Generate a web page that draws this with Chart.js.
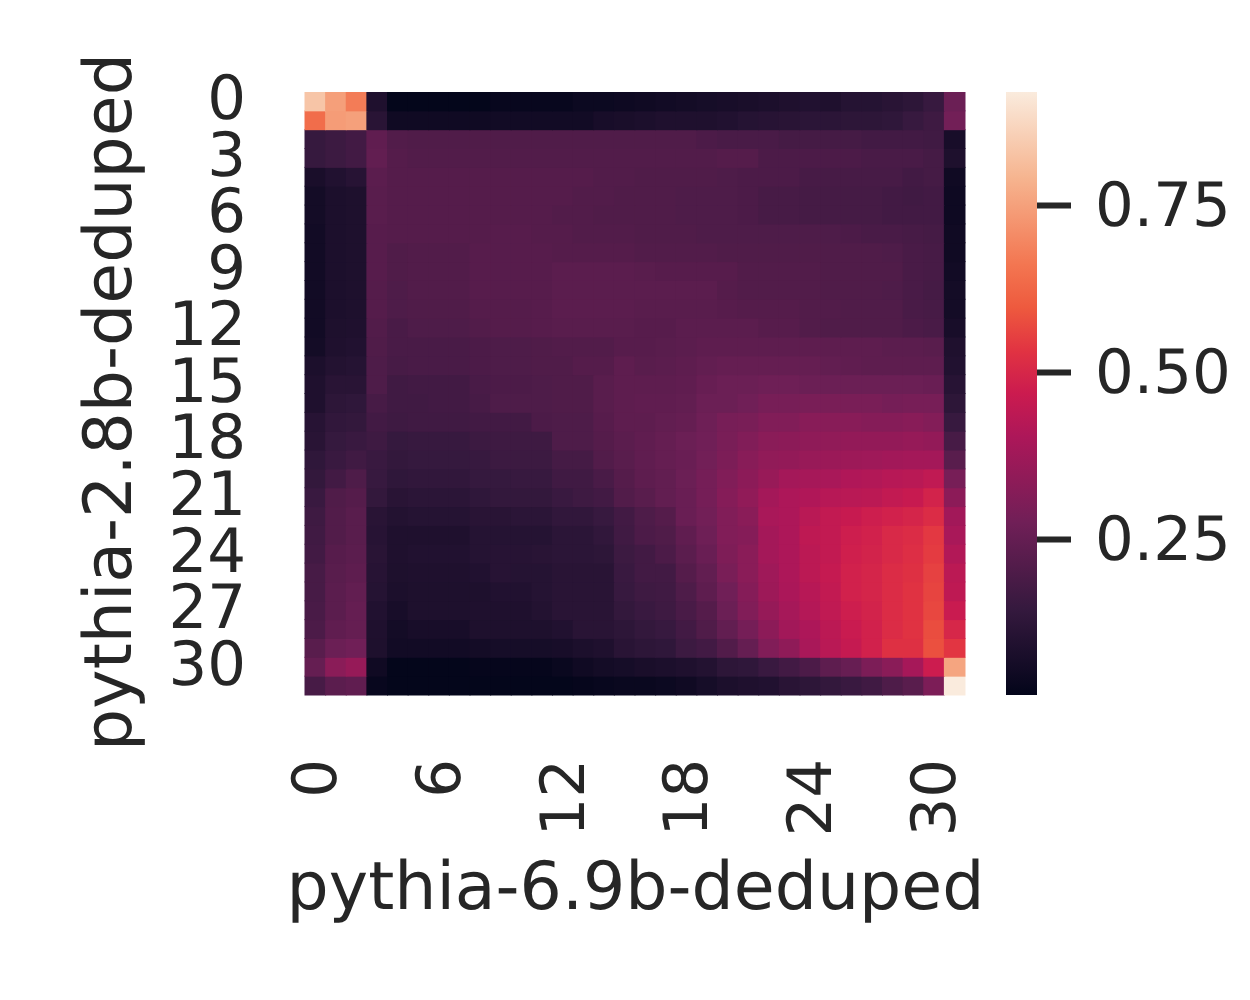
<!DOCTYPE html>
<html>
<head>
<meta charset="utf-8">
<style>
  body { margin: 0; background: #fff; }
  canvas { position: absolute; top: 0; }
  #heat { left: 0; }
  #bar { left: 1000px; }
</style>
<script src="https://cdn.jsdelivr.net/npm/chart.js@4"></script>
</head>
<body>
<canvas id="heat" width="1000" height="1000"></canvas>
<canvas id="bar" width="250" height="1000"></canvas>
<script>
// Heatmap data, one list per row
const cellValues = [
  [.83,.746,.675,.09,.02,.02,.02,.02,.02,.03,.03,.03,.03,.04,.04,.045,.05,.055,.06,.065,.07,.075,.08,.09,.095,.09,.105,.105,.115,.125,.15,.265],
  [.64,.74,.75,.115,.05,.05,.05,.05,.05,.055,.055,.055,.055,.055,.07,.075,.08,.09,.09,.09,.095,.105,.11,.115,.12,.12,.125,.125,.13,.15,.165,.28],
  [.148,.16,.175,.24,.21,.205,.205,.205,.205,.205,.205,.205,.205,.205,.205,.205,.205,.205,.205,.195,.19,.19,.19,.18,.18,.18,.18,.175,.175,.175,.17,.07],
  [.148,.16,.175,.245,.215,.21,.21,.21,.21,.21,.21,.21,.21,.21,.21,.21,.21,.21,.21,.21,.215,.215,.195,.195,.195,.195,.195,.19,.19,.19,.18,.085],
  [.075,.095,.11,.23,.215,.215,.215,.215,.215,.215,.215,.215,.215,.215,.21,.21,.205,.205,.205,.205,.2,.195,.195,.195,.185,.185,.185,.185,.185,.175,.18,.05],
  [.06,.08,.085,.225,.215,.215,.215,.215,.215,.215,.215,.215,.215,.21,.21,.205,.205,.205,.2,.2,.2,.195,.185,.185,.18,.18,.18,.18,.175,.17,.175,.045],
  [.06,.08,.085,.225,.215,.215,.215,.215,.215,.215,.215,.215,.21,.21,.205,.205,.205,.205,.2,.2,.2,.195,.185,.185,.18,.18,.18,.18,.175,.175,.175,.045],
  [.055,.08,.085,.22,.215,.215,.215,.215,.215,.22,.22,.215,.215,.21,.21,.21,.205,.205,.205,.2,.2,.2,.2,.2,.2,.2,.195,.19,.19,.185,.18,.05],
  [.055,.08,.085,.22,.205,.21,.21,.21,.22,.22,.22,.22,.215,.215,.215,.215,.21,.21,.21,.21,.205,.205,.205,.205,.205,.205,.205,.205,.2,.19,.185,.05],
  [.055,.08,.085,.22,.205,.21,.21,.21,.22,.22,.22,.22,.23,.23,.23,.23,.225,.22,.22,.22,.22,.21,.21,.21,.21,.205,.205,.205,.205,.19,.185,.055],
  [.055,.08,.085,.215,.2,.21,.21,.21,.22,.22,.22,.22,.23,.23,.23,.23,.23,.23,.23,.23,.215,.21,.21,.21,.21,.205,.205,.205,.2,.19,.18,.06],
  [.055,.08,.085,.215,.2,.205,.205,.205,.215,.215,.215,.22,.23,.23,.23,.23,.225,.225,.225,.225,.22,.215,.215,.215,.21,.21,.205,.205,.205,.19,.185,.06],
  [.055,.085,.09,.21,.19,.2,.2,.2,.21,.215,.215,.22,.225,.225,.225,.225,.22,.22,.23,.23,.23,.23,.22,.22,.21,.205,.205,.205,.205,.195,.19,.07],
  [.06,.09,.095,.205,.19,.19,.19,.19,.195,.2,.2,.205,.21,.21,.21,.22,.22,.225,.23,.235,.235,.235,.235,.235,.235,.235,.235,.235,.23,.23,.225,.09],
  [.08,.1,.105,.2,.185,.19,.19,.19,.195,.2,.2,.205,.205,.215,.215,.235,.225,.23,.235,.245,.25,.25,.25,.25,.25,.245,.24,.235,.235,.235,.235,.095],
  [.09,.115,.115,.2,.17,.175,.175,.175,.19,.195,.195,.2,.205,.205,.225,.235,.235,.235,.24,.255,.265,.265,.27,.27,.265,.265,.265,.265,.265,.265,.26,.11],
  [.09,.125,.13,.185,.17,.17,.175,.175,.185,.2,.2,.2,.205,.205,.225,.235,.24,.24,.245,.265,.265,.275,.29,.29,.295,.295,.295,.295,.285,.29,.29,.125],
  [.11,.135,.14,.175,.165,.17,.17,.17,.175,.175,.175,.195,.2,.2,.22,.235,.235,.245,.25,.27,.29,.295,.31,.31,.325,.325,.325,.32,.32,.325,.315,.15],
  [.115,.145,.155,.165,.145,.15,.15,.15,.16,.165,.165,.165,.2,.2,.215,.23,.24,.25,.265,.275,.295,.31,.33,.335,.34,.345,.35,.35,.35,.355,.35,.185],
  [.13,.155,.17,.155,.14,.145,.145,.145,.15,.16,.16,.16,.18,.18,.21,.225,.24,.25,.26,.28,.3,.325,.345,.35,.36,.365,.37,.375,.38,.385,.385,.225],
  [.14,.175,.2,.15,.13,.135,.135,.135,.145,.145,.15,.15,.17,.17,.19,.215,.235,.245,.265,.285,.31,.335,.36,.385,.39,.395,.41,.415,.425,.43,.445,.29],
  [.155,.205,.215,.14,.115,.12,.12,.12,.13,.14,.14,.14,.155,.165,.175,.21,.225,.245,.26,.285,.32,.345,.385,.405,.41,.425,.43,.435,.45,.46,.49,.335],
  [.165,.21,.225,.115,.1,.105,.105,.105,.115,.115,.12,.12,.135,.135,.15,.175,.2,.215,.26,.28,.31,.33,.395,.405,.43,.45,.46,.475,.485,.495,.515,.38],
  [.17,.21,.225,.11,.09,.09,.09,.09,.105,.105,.105,.105,.12,.12,.135,.17,.195,.205,.24,.27,.31,.32,.385,.405,.44,.45,.475,.485,.505,.515,.54,.395],
  [.175,.22,.23,.115,.09,.095,.095,.095,.105,.11,.11,.115,.12,.12,.125,.16,.175,.195,.23,.26,.305,.33,.385,.405,.435,.45,.48,.49,.505,.52,.545,.415],
  [.185,.225,.235,.11,.085,.09,.09,.09,.095,.11,.105,.105,.115,.115,.115,.155,.175,.175,.215,.245,.295,.33,.375,.405,.435,.455,.485,.495,.515,.525,.555,.435],
  [.185,.23,.245,.105,.08,.085,.085,.085,.085,.095,.095,.105,.115,.115,.115,.15,.165,.17,.2,.235,.275,.32,.37,.4,.425,.45,.485,.495,.515,.53,.56,.44],
  [.19,.23,.25,.095,.07,.085,.085,.085,.09,.09,.09,.1,.115,.115,.115,.14,.155,.165,.19,.215,.265,.31,.355,.39,.42,.445,.475,.49,.515,.53,.565,.465],
  [.195,.24,.25,.09,.06,.07,.07,.07,.085,.085,.085,.085,.095,.115,.115,.125,.14,.15,.175,.205,.245,.285,.335,.38,.405,.435,.465,.485,.515,.53,.575,.5],
  [.225,.265,.275,.085,.055,.055,.055,.055,.06,.065,.065,.065,.07,.08,.09,.115,.125,.13,.16,.175,.21,.25,.31,.34,.395,.43,.455,.485,.525,.525,.58,.535],
  [.25,.33,.355,.05,.02,.02,.02,.02,.025,.025,.025,.025,.035,.05,.06,.065,.075,.08,.09,.1,.125,.13,.155,.175,.195,.235,.255,.3,.33,.39,.47,.76],
  [.185,.23,.24,.03,.02,.02,.02,.02,.02,.02,.02,.02,.02,.025,.03,.035,.035,.04,.05,.065,.08,.09,.095,.115,.125,.14,.155,.17,.2,.225,.3,.92]
];
const xTickLabels = ["0", "6", "12", "18", "24", "30"];
const yTickLabels = ["0", "3", "6", "9", "12", "15", "18", "21", "24", "27", "30"];
const colorbarTicks = [0.25, 0.5, 0.75];
const colorMin = 0.0165;
const colorMax = 0.92;

// rocket colormap
const rocketStops = [0, 0.143, 0.286, 0.429, 0.5, 0.571, 0.643, 0.714, 0.857, 1];
const rocketColors = ["#03051a", "#35193e", "#701f57", "#ad1759", "#cb1b4f", "#e13342", "#ee5a3e", "#f37651", "#f6b48f", "#faebdd"];

const textColor = "#262626";
const fontFamily = "'DejaVu Sans'";

function hexToRgb(hex) {
  return [1, 3, 5].map(i => parseInt(hex.slice(i, i + 2), 16));
}

function colorFor(value) {
  const t = Math.min(1, Math.max(0, (value - colorMin) / (colorMax - colorMin)));
  let i = 0;
  while (i < rocketStops.length - 2 && t > rocketStops[i + 1]) i++;
  const a = hexToRgb(rocketColors[i]);
  const b = hexToRgb(rocketColors[i + 1]);
  const f = (t - rocketStops[i]) / (rocketStops[i + 1] - rocketStops[i]);
  const c = a.map((v, k) => Math.round(v + (b[k] - v) * f));
  return `rgb(${c[0]},${c[1]},${c[2]})`;
}

// Keep text unhinted so its width matches the reference
const preciseText = {
  id: "preciseText",
  beforeDraw: chart => { chart.ctx.textRendering = "geometricPrecision"; }
};

// Axis titles: the x title is wider than the plot (Chart.js would squeeze it)
// and the y title sits a little below the middle of the axis
const titleRoom = {
  id: "titleRoom",
  beforeDraw: chart => {
    chart.scales.x.left = 265;
    chart.scales.x.right = 1006;
    chart.scales.y.bottom = 712;
  }
};

// Heatmap: one stacked bar dataset per row
const columns = cellValues[0].map((_, i) => String(i));

new Chart(document.getElementById("heat"), {
  type: "bar",
  plugins: [preciseText, titleRoom],
  data: {
    labels: columns,
    datasets: cellValues.map((row, r) => ({
      label: "row " + r,
      data: row.map(() => 1),
      backgroundColor: row.map(colorFor),
      borderWidth: 0,
      inflateAmount: 0.5,
      barPercentage: 1,
      categoryPercentage: 1
    }))
  },
  options: {
    responsive: false,
    animation: false,
    layout: { padding: { left: 0, right: 35, top: 92, bottom: 0 } },
    plugins: { legend: { display: false }, tooltip: { enabled: false } },
    scales: {
      x: {
        stacked: true,
        grid: { display: false },
        border: { display: false },
        afterFit: scale => {
          scale.height = 305;
          scale.paddingLeft = 0;
          scale.paddingRight = 0;
        },
        ticks: {
          autoSkip: false,
          minRotation: 90,
          maxRotation: 90,
          padding: 56,
          labelOffset: 5,
          color: textColor,
          font: { family: fontFamily, size: 61 },
          callback: function (value) {
            const label = this.getLabelForValue(value);
            return xTickLabels.includes(label) ? label : "";
          }
        },
        title: {
          display: true,
          text: "pythia-6.9b-deduped",
          color: textColor,
          font: { family: fontFamily, size: 66.5 },
          padding: { top: 12, bottom: 68 }
        }
      },
      y: {
        stacked: true,
        reverse: true,
        min: 0,
        max: cellValues.length,
        grid: { display: false },
        border: { display: false },
        afterFit: scale => {
          scale.width = 305;
          scale.paddingTop = 0;
          scale.paddingBottom = 0;
        },
        afterBuildTicks: scale => {
          scale.ticks = yTickLabels.map(l => ({ value: Number(l) + 0.5 }));
        },
        ticks: {
          autoSkip: false,
          padding: 51,
          labelOffset: 2,
          color: textColor,
          font: { family: fontFamily, size: 61 },
          callback: value => String(value - 0.5)
        },
        title: {
          display: true,
          text: "pythia-2.8b-deduped",
          color: textColor,
          font: { family: fontFamily, size: 66.5 },
          padding: { top: 74, bottom: 0 }
        }
      }
    }
  }
});

// Colorbar: one floating bar filled with the colormap
function colorbarFill(context) {
  const area = context.chart.chartArea;
  if (!area) return rocketColors[0];
  const gradient = context.chart.ctx.createLinearGradient(0, area.bottom, 0, area.top);
  rocketColors.forEach((c, i) => gradient.addColorStop(rocketStops[i], c));
  return gradient;
}

new Chart(document.getElementById("bar"), {
  type: "bar",
  plugins: [preciseText],
  data: {
    labels: ["colorbar"],
    datasets: [{
      data: [[colorMin, colorMax]],
      backgroundColor: colorbarFill,
      borderWidth: 0,
      barPercentage: 1,
      categoryPercentage: 1
    }]
  },
  options: {
    responsive: false,
    animation: false,
    layout: { padding: { left: 6, right: 0, top: 92, bottom: 305 } },
    plugins: { legend: { display: false }, tooltip: { enabled: false } },
    scales: {
      x: { display: false },
      y: {
        position: "right",
        min: colorMin,
        max: colorMax,
        border: { display: false },
        grid: { drawOnChartArea: false, tickLength: 34, tickWidth: 6, tickColor: textColor },
        afterFit: scale => {
          scale.width = 213;
          scale.paddingTop = 0;
          scale.paddingBottom = 0;
        },
        afterBuildTicks: scale => {
          scale.ticks = colorbarTicks.map(v => ({ value: v }));
        },
        ticks: {
          autoSkip: false,
          padding: 24,
          labelOffset: 5,
          color: textColor,
          font: { family: fontFamily, size: 61 },
          callback: value => value.toFixed(2)
        }
      }
    }
  }
});
</script>
</body>
</html>
